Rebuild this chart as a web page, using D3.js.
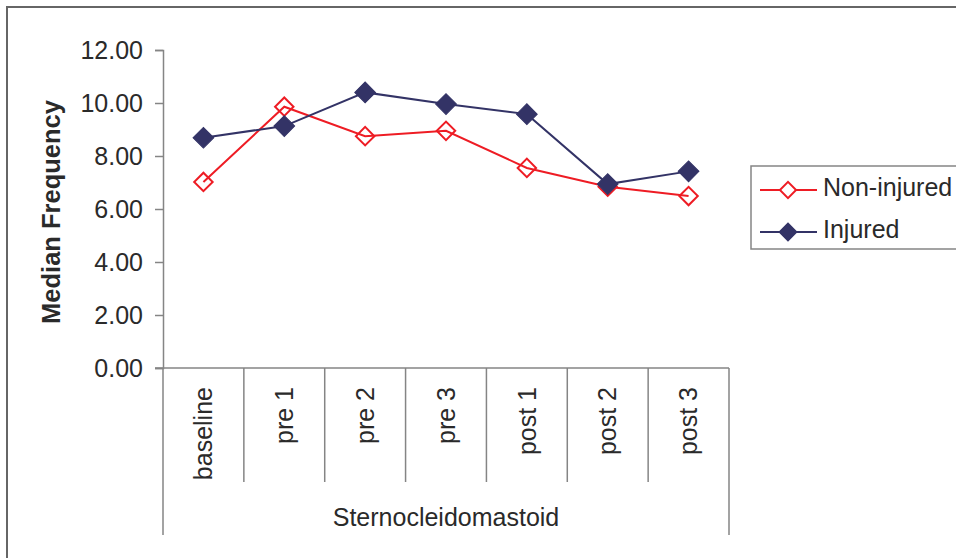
<!DOCTYPE html>
<html>
<head>
<meta charset="utf-8">
<script src="https://cdn.jsdelivr.net/npm/d3@7/dist/d3.min.js"></script>
<style>
  html, body { margin: 0; padding: 0; background: #fff; }
  svg { display: block; font-family: "Liberation Sans", Arial, Helvetica, sans-serif; }
</style>
</head>
<body>
<svg id="chart" width="956" height="558"></svg>
<script>
const categories = ["baseline", "pre 1", "pre 2", "pre 3", "post 1", "post 2", "post 3"];
const groupLabel = "Sternocleidomastoid";
const nonInjured = [7.02, 9.86, 8.75, 8.95, 7.55, 6.84, 6.49];
const injured = [8.69, 9.13, 10.40, 9.96, 9.58, 6.94, 7.42];
const yTicks = [0, 2, 4, 6, 8, 10, 12];
const seriesNames = ["Non-injured", "Injured"];

const svg = d3.select("#chart");
const textColor = "#2a2a2a";
const axisColor = "#858585";
const red = "#ee1c24";
const navy = "#333366";

// outer border
svg.append("rect").attr("x", 7).attr("y", 7).attr("width", 1000).attr("height", 600)
  .attr("fill", "none").attr("stroke", "#666").attr("stroke-width", 2);

const plotLeft = 163, plotRight = 729, plotTop = 50, plotBottom = 368;
const x = d3.scaleBand().domain(categories).range([plotLeft, plotRight]).padding(0);
const y = d3.scaleLinear().domain([0, 12]).range([plotBottom, plotTop]);
const cx = c => x(c) + x.bandwidth() / 2;

// Y axis
const yAxis = d3.axisLeft(y).tickValues(yTicks).tickFormat(d3.format(".2f")).tickSize(8).tickPadding(12);
const gy = svg.append("g").attr("transform", `translate(${plotLeft},0)`).call(yAxis);
gy.select(".domain").attr("stroke", axisColor).attr("stroke-width", 1.5);
gy.selectAll(".tick line").attr("stroke", axisColor).attr("stroke-width", 1.5);
gy.selectAll(".tick text").attr("fill", textColor).attr("font-size", 25)
  .attr("font-family", "Liberation Sans, Arial, sans-serif");

// X axis baseline (extends left like a tick)
svg.append("line").attr("x1", plotLeft - 8).attr("x2", plotRight).attr("y1", plotBottom).attr("y2", plotBottom)
  .attr("stroke", axisColor).attr("stroke-width", 1.5);

// Category separators
const bounds = categories.map(c => x(c)).concat([plotRight]);
svg.selectAll("line.sep").data(bounds).enter().append("line")
  .attr("class", "sep")
  .attr("x1", d => d).attr("x2", d => d)
  .attr("y1", plotBottom)
  .attr("y2", (d, i) => (i === 0 || i === bounds.length - 1) ? 535 : 482)
  .attr("stroke", axisColor).attr("stroke-width", 1.5);

// Category labels (rotated)
svg.selectAll("text.cat").data(categories).enter().append("text")
  .attr("class", "cat")
  .attr("transform", d => `translate(${cx(d)},387) rotate(-90)`)
  .attr("text-anchor", "end")
  .attr("dy", "0.35em")
  .attr("font-size", 25).attr("fill", textColor)
  .text(d => d);

// Group label
svg.append("text").attr("x", (plotLeft + plotRight) / 2).attr("y", 526)
  .attr("text-anchor", "middle").attr("font-size", 25).attr("fill", textColor)
  .text(groupLabel);

// Y title
svg.append("text")
  .attr("transform", `translate(51,${(plotTop + plotBottom) / 2 + 3}) rotate(-90)`)
  .attr("text-anchor", "middle").attr("dy", "0.35em")
  .attr("font-size", 25.5).attr("font-weight", "bold").attr("fill", textColor)
  .text("Median Frequency");

// Series
const line = d3.line().x((d, i) => cx(categories[i])).y(d => y(d));
const diamondFilled = d3.symbol().type(d3.symbolSquare).size(215);
const diamondOpen = d3.symbol().type(d3.symbolSquare).size(170);

function drawSeries(values, color, filled) {
  svg.append("path").datum(values).attr("d", line)
    .attr("fill", "none").attr("stroke", color).attr("stroke-width", 2);
  svg.selectAll(null).data(values).enter().append("path")
    .attr("d", filled ? diamondFilled : diamondOpen)
    .attr("transform", (d, i) => `translate(${cx(categories[i])},${y(d)}) rotate(45)`)
    .attr("fill", filled ? color : "#fff")
    .attr("fill-opacity", filled ? 1 : 0)
    .attr("stroke", color).attr("stroke-width", filled ? 1 : 2);
}
drawSeries(nonInjured, red, false);
drawSeries(injured, navy, true);

// Legend
const lg = svg.append("g");
lg.append("rect").attr("x", 751).attr("y", 166).attr("width", 300).attr("height", 83)
  .attr("fill", "#fff").attr("stroke", axisColor).attr("stroke-width", 1.5);
const legendItems = [
  { name: seriesNames[0], color: red, filled: false, y: 190 },
  { name: seriesNames[1], color: navy, filled: true, y: 232 }
];
legendItems.forEach(it => {
  lg.append("line").attr("x1", 760).attr("x2", 817).attr("y1", it.y).attr("y2", it.y)
    .attr("stroke", it.color).attr("stroke-width", 2);
  lg.append("path")
    .attr("d", d3.symbol().type(d3.symbolSquare).size(it.filled ? 160 : 130)())
    .attr("transform", `translate(788,${it.y}) rotate(45)`)
    .attr("fill", it.filled ? it.color : "#fff")
    .attr("stroke", it.color).attr("stroke-width", it.filled ? 1 : 2);
  lg.append("text").attr("x", 823).attr("y", it.y - 3).attr("dy", "0.35em")
    .attr("font-size", 25).attr("fill", textColor).text(it.name);
});
</script>
</body>
</html>
